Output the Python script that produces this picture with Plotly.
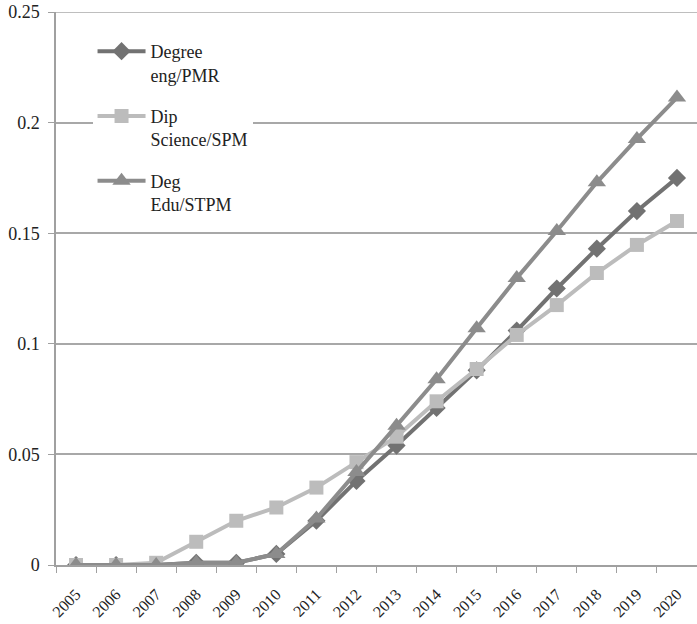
import plotly.graph_objects as go

years = [str(y) for y in range(2005, 2021)]
degree_eng_pmr = [0, 0, 0, 0.001, 0.001, 0.005, 0.020, 0.038, 0.054, 0.071, 0.088, 0.106, 0.125, 0.143, 0.160, 0.175]
dip_science_spm = [0, 0, 0.001, 0.0105, 0.020, 0.026, 0.035, 0.0465, 0.058, 0.074, 0.0886, 0.104, 0.1175, 0.132, 0.1447, 0.1555]
deg_edu_stpm = [0, 0, 0, 0.001, 0.001, 0.005, 0.021, 0.042, 0.063, 0.084, 0.107, 0.1297, 0.151, 0.173, 0.1926, 0.2113]
y_ticks = [0, 0.05, 0.1, 0.15, 0.2, 0.25]
y_tick_labels = ["0", "0.05", "0.1", "0.15", "0.2", "0.25"]

series = [
    ("Degree<br>eng/PMR", degree_eng_pmr, "#727272", "diamond", 14),
    ("Dip<br>Science/SPM", dip_science_spm, "#bcbcbc", "square", 14),
    ("Deg<br>Edu/STPM", deg_edu_stpm, "#8c8c8c", "triangle-up", 16),
]

fig = go.Figure()
for i, (name, vals, col, sym, sz) in enumerate(series):
    fig.add_trace(go.Scatter(
        x=years, y=vals, name=name, mode="lines+markers",
        line=dict(color=col, width=4),
        marker=dict(symbol=sym, size=sz, color=col, line=dict(width=0)),
        legendgroup=f"g{i}",
    ))

# top gridline at the upper edge of the value range
fig.add_shape(type="line", xref="paper", yref="y", x0=0, x1=1,
              y0=y_ticks[-1], y1=y_ticks[-1], layer="below",
              line=dict(color="#a8a8a8", width=1.5))

font = "Liberation Serif"
fig.update_layout(
    width=697, height=624,
    margin=dict(l=56, r=0, t=12, b=59, autoexpand=False),
    paper_bgcolor="white", plot_bgcolor="white",
    font=dict(family=font, size=18, color="#222"),
    showlegend=True,
    legend=dict(
        x=0.057, y=0.962, xanchor="left", yanchor="top",
        bgcolor="white", borderwidth=0,
        font=dict(family=font, size=18, color="#222"),
        valign="top", tracegroupgap=15, itemwidth=48,
    ),
    xaxis=dict(
        type="category", range=[-0.5, 15.5], automargin=False,
        tickangle=-45, tickson="boundaries",
        ticks="outside", ticklen=6, tickcolor="#a0a0a0",
        showline=True, linecolor="#a0a0a0", linewidth=1.5,
        showgrid=False, ticklabelstandoff=12,
        tickfont=dict(family=font, size=16, color="#222"),
    ),
    yaxis=dict(
        range=[0, 0.25], tickvals=y_ticks, ticktext=y_tick_labels,
        automargin=False,
        ticks="outside", ticklen=6, tickcolor="#a0a0a0",
        showline=True, linecolor="#a0a0a0", linewidth=1.5,
        showgrid=True, gridcolor="#a8a8a8", gridwidth=1.5,
        zeroline=False, ticklabeloverflow="allow", ticklabelstandoff=5,
        tickfont=dict(family=font, size=18, color="#222"),
    ),
)

fig.write_html("out.html", config={"displayModeBar": False},
               post_script="document.body.style.margin='0';")
